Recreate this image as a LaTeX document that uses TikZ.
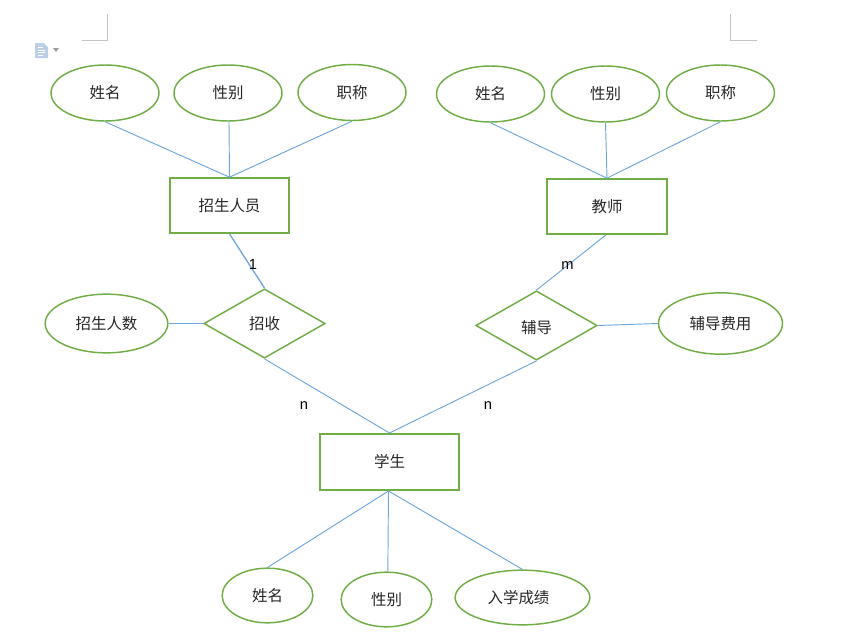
\documentclass[tikz,border=0pt]{standalone}
\usepackage{fontspec}
\setmainfont{Liberation Sans}
\newfontfamily\cjk{Noto Sans CJK SC}
\usepackage{tikz}
\usetikzlibrary{shapes.geometric}
\definecolor{ergreen}{HTML}{70AD47}
\definecolor{erblue}{HTML}{6CA6DC}
\definecolor{markgray}{HTML}{C4C4C4}
\definecolor{icongray}{HTML}{BCCFE8}
\def\attrnode{\node[ellipse,draw=ergreen,line width=1.1pt,inner sep=0pt,text=black!85,font=\cjk\fontsize{11.6}{12}\selectfont]}
\def\entnode{\node[rectangle,draw=ergreen,line width=1.5pt,inner sep=0pt,text=black!85,font=\cjk\fontsize{11.6}{12}\selectfont]}
\def\relnode{\node[diamond,draw=ergreen,line width=1.1pt,inner sep=0pt,text=black!85,font=\cjk\fontsize{11.6}{12}\selectfont]}
\def\drawlink{\draw[color=erblue,line width=0.7pt]}
\def\drawmark{\draw[color=markgray,line width=0.7pt]}
\begin{document}
\begin{tikzpicture}[x=0.75pt,y=-0.75pt]
\useasboundingbox (0,0) rectangle (851,643);
\attrnode[minimum width=81pt,minimum height=42pt] (rname) at (105,93) {姓名};
\attrnode[minimum width=81pt,minimum height=42pt] (rsex) at (228,93) {性别};
\attrnode[minimum width=81pt,minimum height=42pt] (rtitle) at (352,92.5) {职称};
\attrnode[minimum width=81pt,minimum height=42pt] (tname) at (490.5,94) {姓名};
\attrnode[minimum width=81pt,minimum height=42pt] (tsex) at (605.5,94) {性别};
\attrnode[minimum width=81pt,minimum height=42pt] (ttitle) at (720.5,93) {职称};
\entnode[minimum width=89pt,minimum height=41pt] (recruiter) at (229.5,205.5) {招生人员};
\entnode[minimum width=90pt,minimum height=41pt] (teacher) at (607,206.5) {教师};
\relnode[minimum width=91pt,minimum height=52pt] (enroll) at (264.5,323.5) {招收};
\relnode[minimum width=91pt,minimum height=52pt] (tutor) at (536.5,325.5) {\raisebox{-5.9pt}[0pt][0pt]{辅导}};
\attrnode[minimum width=92pt,minimum height=44pt] (ecount) at (106.5,323.5) {招生人数};
\attrnode[minimum width=93pt,minimum height=46pt] (tfee) at (720.5,323.5) {辅导费用};
\entnode[minimum width=104pt,minimum height=42pt] (student) at (389.5,462) {学生};
\attrnode[minimum width=68pt,minimum height=41pt] (sname) at (267.5,595.5) {姓名};
\attrnode[minimum width=68pt,minimum height=41pt] (ssex) at (386.5,599.5) {性别};
\attrnode[minimum width=101pt,minimum height=41pt] (sscore) at (522.5,597.5) {入学成绩\kern6pt};
\drawlink (rname.south) -- (recruiter.north);
\drawlink ([xshift=0.75pt]rsex.south) -- (recruiter.north);
\drawlink (rtitle.south) -- (recruiter.north);
\drawlink (tname.south) -- (teacher.north);
\drawlink (tsex.south) -- (teacher.north);
\drawlink (ttitle.south) -- (teacher.north);
\drawlink[line width=1pt] (recruiter.south) -- (enroll.north);
\drawlink ([xshift=-0.75pt]teacher.south) -- (tutor.north);
\drawlink (ecount.east) -- (enroll.west);
\drawlink (tutor.east) -- (tfee.west);
\drawlink (enroll.south) -- (student.north);
\drawlink (tutor.south) -- (student.north);
\drawlink ([xshift=-0.75pt]student.south) -- (sname.north);
\drawlink ([xshift=-0.75pt]student.south) -- ([xshift=1pt]ssex.north);
\drawlink ([xshift=-0.75pt]student.south) -- (sscore.north);
\node[font=\fontsize{11}{12}\selectfont] (one) at (253,264) {1};
\node[font=\fontsize{11}{12}\selectfont] (m) at (567.5,265.5) {m};
\node[font=\fontsize{11}{12}\selectfont] (nleft) at (304,406) {n};
\node[font=\fontsize{11}{12}\selectfont] (nright) at (488,406) {n};
\coordinate (la) at (82,40);
\coordinate (lb) at (107,40);
\coordinate (lc) at (107,14);
\coordinate (ra) at (730,14);
\coordinate (rb) at (730,40);
\coordinate (rc) at (757,40);
\drawmark (la) -- (lb) -- (lc);
\drawmark (ra) -- (rb) -- (rc);
\fill[icongray] (35,43) -- (44,43) -- (48,47) -- (48,58) -- (35,58) -- cycle;
\draw[white,line width=0.6pt] (38,47) -- (43,47) (38,50) -- (45,50) (38,52.5) -- (45,52.5) (38,55) -- (43,55);
\fill[markgray!80!black] (53,48) -- (59,48) -- (56,52) -- cycle;
\end{tikzpicture}
\end{document}
